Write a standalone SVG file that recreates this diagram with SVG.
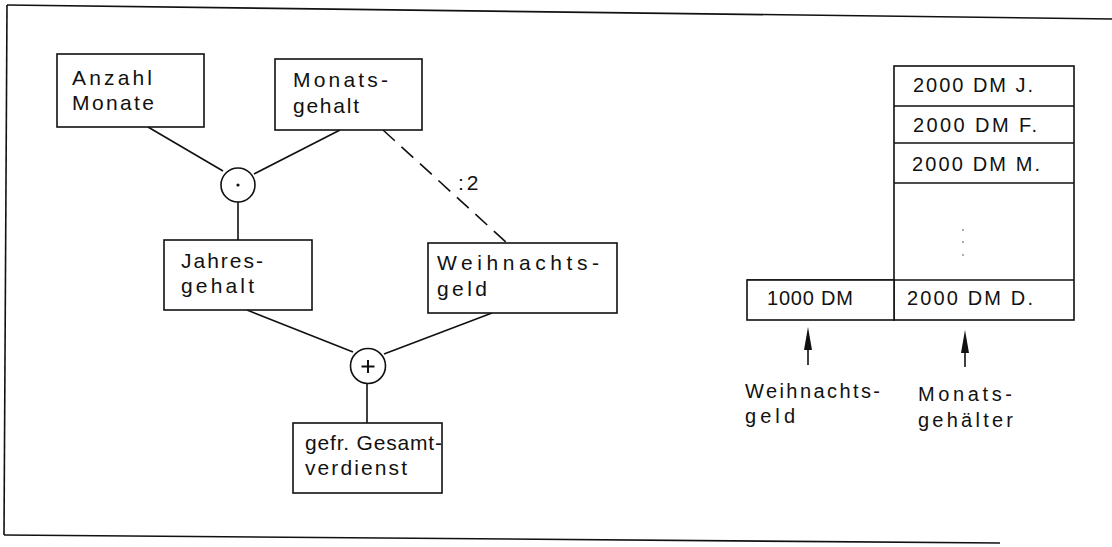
<svg xmlns="http://www.w3.org/2000/svg" width="1112" height="547" viewBox="0 0 1112 547">
<style>
.box{fill:#fff;stroke:#111;stroke-width:1.6}
.op{fill:#fff;stroke:#111;stroke-width:1.6}
.ln{stroke:#111;stroke-width:1.6;fill:none}
text{font-family:"Liberation Sans",Arial,sans-serif;fill:#111}
.t{font-size:21px}
.s{font-size:20px}
</style>
<rect width="1112" height="547" fill="#fff"/>
<g id="frame" class="ln">
<path d="M7,5 L1112,19"/>
<path d="M7,5 L4,535"/>
<path d="M4,535 L1000,543"/>
</g>
<g id="connectors" class="ln">
<line x1="148" y1="127" x2="223" y2="171"/>
<line x1="340" y1="130" x2="254" y2="174"/>
<line x1="238" y1="202" x2="238" y2="240"/>
<line x1="383" y1="130" x2="507" y2="243" stroke-dasharray="16,9"/>
<line x1="247" y1="310" x2="353" y2="352"/>
<line x1="492" y1="313" x2="384" y2="354"/>
<line x1="367" y1="384" x2="367" y2="423"/>
</g>
<text class="t" x="458" y="190" letter-spacing="3">:2</text>
<g id="anzahl"><rect class="box" x="57" y="54" width="147" height="73"/><text class="t" x="72" y="85" textLength="80" lengthAdjust="spacing">Anzahl</text><text class="t" x="72" y="110" textLength="82" lengthAdjust="spacing">Monate</text></g>
<g id="monatsgehalt"><rect class="box" x="275" y="59" width="147" height="71"/><text class="t" x="293" y="87" textLength="95" lengthAdjust="spacing">Monats-</text><text class="t" x="293" y="113" textLength="66" lengthAdjust="spacing">gehalt</text></g>
<g id="mult"><circle class="op" cx="238" cy="185" r="17"/><circle cx="238" cy="185" r="1.6" fill="#111"/></g>
<g id="jahresgehalt"><rect class="box" x="164" y="240" width="148" height="70"/><text class="t" x="181" y="268" textLength="82" lengthAdjust="spacing">Jahres-</text><text class="t" x="181" y="293" textLength="73" lengthAdjust="spacing">gehalt</text></g>
<g id="weihnachtsgeld"><rect class="box" x="428" y="243" width="189" height="70"/><text class="t" x="437" y="270" textLength="162" lengthAdjust="spacing">Weihnachts-</text><text class="t" x="437" y="296" textLength="50" lengthAdjust="spacing">geld</text></g>
<g id="plus"><circle class="op" cx="368" cy="366" r="17.5"/><path d="M368,360 V373 M361.5,366.5 H374.5" stroke="#111" stroke-width="2"/></g>
<g id="gesamt"><rect class="box" x="293" y="423" width="149" height="70"/><text class="t" x="305" y="450" textLength="137" lengthAdjust="spacing">gefr. Gesamt-</text><text class="t" x="305" y="475" textLength="102" lengthAdjust="spacing">verdienst</text></g>
<g id="table">
<rect class="box" x="894" y="66" width="180" height="254"/>
<line class="ln" x1="894" y1="106" x2="1074" y2="106"/>
<line class="ln" x1="894" y1="143" x2="1074" y2="143"/>
<line class="ln" x1="894" y1="183" x2="1074" y2="183"/>
<line class="ln" x1="747" y1="280" x2="1074" y2="280"/>
<rect class="box" x="747" y="280" width="147" height="40"/>
<text class="s" x="913" y="92" textLength="120" lengthAdjust="spacing">2000 DM  J.</text>
<text class="s" x="913" y="132" textLength="124" lengthAdjust="spacing">2000 DM F.</text>
<text class="s" x="912" y="171" textLength="128" lengthAdjust="spacing">2000 DM  M.</text>
<circle cx="963" cy="230" r="0.9" fill="#888"/>
<circle cx="963" cy="242" r="0.9" fill="#888"/>
<circle cx="963" cy="255" r="0.9" fill="#888"/>
<text class="s" x="767" y="305" textLength="86" lengthAdjust="spacing">1000 DM</text>
<text class="s" x="907" y="305" textLength="126" lengthAdjust="spacing">2000 DM  D.</text>
</g>
<g id="arrows">
<line class="ln" x1="808" y1="365" x2="808" y2="345"/>
<path d="M808,327 L812,350 L804,350 Z" fill="#111"/>
<line class="ln" x1="965" y1="367" x2="965" y2="348"/>
<path d="M965,330 L969,353 L961,353 Z" fill="#111"/>
</g>
<g id="labels">
<text class="s" x="745" y="398" textLength="135" lengthAdjust="spacing">Weihnachts-</text><text class="s" x="745" y="423" textLength="50" lengthAdjust="spacing">geld</text>
<text class="s" x="918" y="401" textLength="94" lengthAdjust="spacing">Monats-</text><text class="s" x="918" y="427" textLength="95" lengthAdjust="spacing">gehälter</text>
</g>
</svg>
